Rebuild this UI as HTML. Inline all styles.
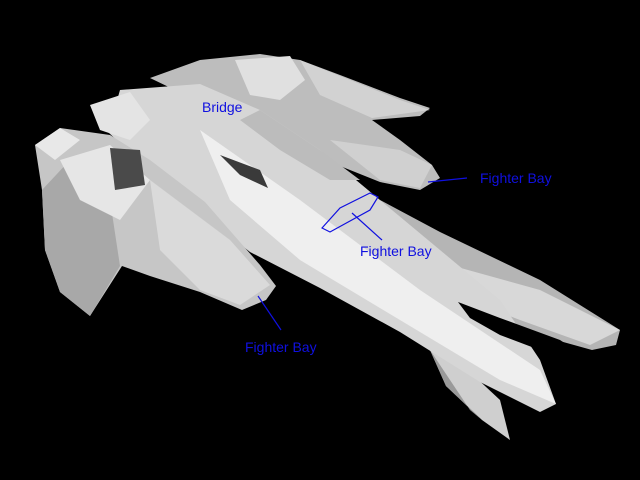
<!DOCTYPE html>
<html><head><style>html,body{margin:0;padding:0;background:#000;}svg{display:block}</style></head>
<body>
<svg width="640" height="480" viewBox="0 0 640 480" xmlns="http://www.w3.org/2000/svg">
<rect width="640" height="480" fill="#000"/>
<polygon points="150,78 200,60 260,54 300,60 340,75 400,98 430,108 420,116 372,120 400,140 432,165 440,178 420,190 380,182 330,162 270,132 200,102" fill="#bdbdbd"/>
<polygon points="235,60 290,56 305,80 280,100 250,95" fill="#e0e0e0"/>
<polygon points="300,60 345,78 400,100 430,110 372,118 320,95" fill="#d2d2d2"/>
<polygon points="330,140 400,150 432,165 420,188 380,180" fill="#d0d0d0"/>
<polygon points="380,200 440,232 540,280 620,330 616,345 592,350 520,330 450,302 420,280" fill="#b5b5b5"/>
<polygon points="450,265 540,290 620,330 590,345 520,320 455,295" fill="#d8d8d8"/>
<polygon points="420,270 450,262 455,300 425,290" fill="#8a8a8a"/>
<polygon points="430,350 470,372 500,400 510,440 482,420 446,386" fill="#cfcfcf"/>
<polygon points="430,350 446,386 482,420 470,410" fill="#9a9a9a"/>
<polygon points="120,90 200,84 260,110 320,150 380,200 440,250 500,300 540,360 556,404 540,412 480,382 400,332 320,288 250,252 200,212 150,172 108,132" fill="#d6d6d6"/>
<polygon points="200,130 300,200 420,290 540,370 556,404 500,380 400,320 300,260 230,200" fill="#efefef"/>
<polygon points="260,110 320,150 360,180 330,180 280,150 240,120" fill="#bcbcbc"/>
<polygon points="90,105 130,92 150,120 130,140 100,130" fill="#e4e4e4"/>
<polygon points="458,302 500,318 560,340 575,350 545,352 500,335 470,318" fill="#000"/>
<polygon points="35,145 60,128 110,135 150,160 205,202 260,265 276,286 266,300 242,310 200,292 150,276 122,266 90,316 60,292 45,250 42,190" fill="#c6c6c6"/>
<polygon points="42,190 70,160 110,200 120,266 90,316 60,292 45,250" fill="#a8a8a8"/>
<polygon points="60,160 110,145 150,180 120,220 80,200" fill="#e6e6e6"/>
<polygon points="150,180 230,240 270,285 240,305 200,290 160,250" fill="#dadada"/>
<polygon points="35,145 60,128 80,140 55,160" fill="#e8e8e8"/>
<polygon points="110,148 140,150 145,185 115,190" fill="#4a4a4a"/>
<polygon points="220,155 260,170 268,188 240,175" fill="#3a3a3a"/>
<g fill="none" stroke="#1010e0" stroke-width="1.2">
<line x1="258" y1="296" x2="281" y2="330"/>
<line x1="428" y1="182" x2="467" y2="178"/>
<polygon points="322,228 340,208 370,193 378,197 370,210 330,232"/>
<line x1="352" y1="213" x2="382" y2="240"/>
</g>
<g font-family="Liberation Sans, sans-serif" font-size="14" fill="#1010e0">
<text x="202" y="112">Bridge</text>
<text x="480" y="183">Fighter Bay</text>
<text x="360" y="256">Fighter Bay</text>
<text x="245" y="352">Fighter Bay</text>
</g>
</svg>
</body></html>
